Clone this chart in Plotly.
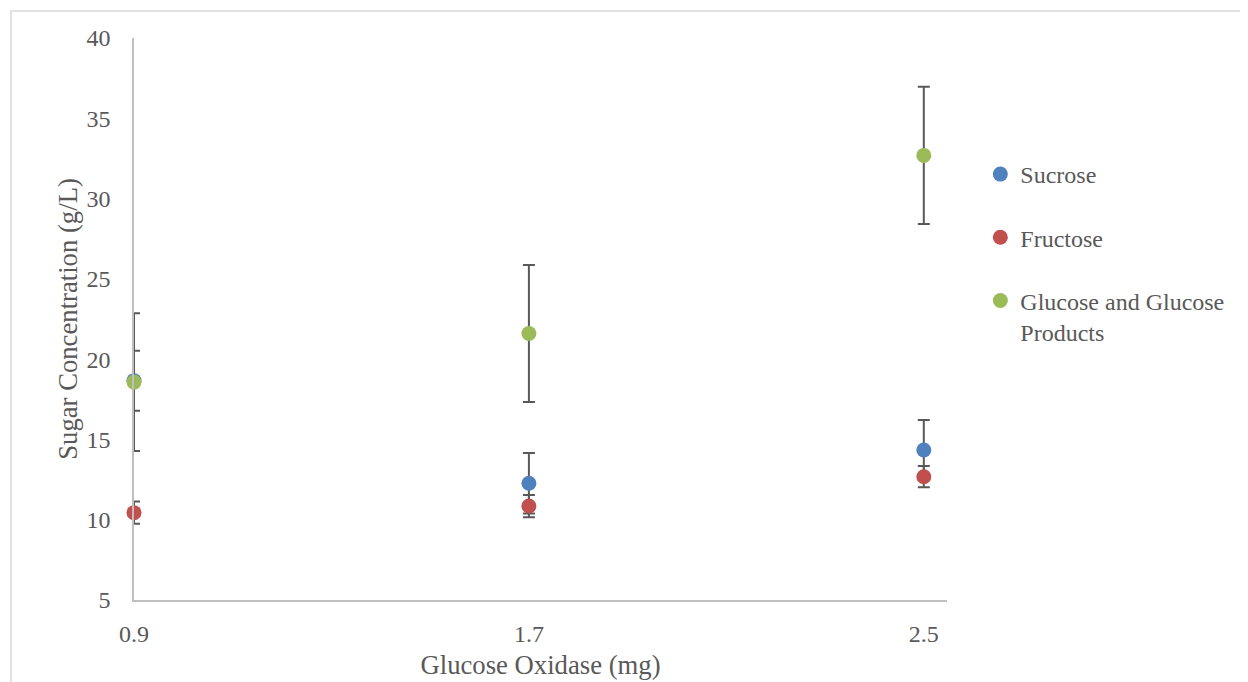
import plotly.graph_objects as go

x_vals = [0.9, 1.7, 2.5]
x_ticks = ["0.9", "1.7", "2.5"]

sucrose = [18.66, 12.27, 14.34]
sucrose_err = [1.87, 1.88, 1.87]

fructose = [10.44, 10.85, 12.68]
fructose_err = [0.69, 0.69, 0.66]

glucose = [18.57, 21.6, 32.69]
glucose_err = [4.29, 4.27, 4.28]

series = [
    ("Sucrose", sucrose, sucrose_err, "#4F81BD"),
    ("Fructose", fructose, fructose_err, "#C0504D"),
    ("Glucose and Glucose<br>Products", glucose, glucose_err, "#9BBB59"),
]

# page has an 8px body margin; work in figure coordinates
OFF = 8
W, H = 1248 - OFF, 682 - OFF
L, T = 134 - OFF, 38 - OFF
pw, ph = 813, 562
R, B = W - L - pw, H - T - ph


def px_x(page_x):
    return (page_x - OFF - L) / pw


def px_y(page_y):
    return (T + ph - (page_y - OFF)) / ph


fig = go.Figure()
for i, (name, ys, errs, col) in enumerate(series):
    fig.add_trace(go.Scatter(
        x=x_vals, y=ys, mode="markers", name=name,
        legendgroup=f"g{i}",
        marker=dict(color=col, size=15),
        error_y=dict(type="data", array=errs, visible=True,
                     color="#595959", thickness=2, width=6),
        cliponaxis=False,
    ))

font_color = "#595959"
fig.update_layout(
    width=W, height=H,
    margin=dict(l=L, r=R, t=T, b=B, autoexpand=False),
    paper_bgcolor="white", plot_bgcolor="white",
    font=dict(family="Liberation Serif, Times New Roman, serif", size=24, color=font_color),
    showlegend=True,
    legend=dict(x=1.041, xanchor="left", y=px_y(152), yanchor="top",
                font=dict(size=24, color=font_color), tracegroupgap=29,
                itemwidth=30, valign="top", bgcolor="rgba(0,0,0,0)"),
    xaxis=dict(range=[0.9, 2.547], tickvals=x_vals, ticktext=x_ticks,
               automargin=False,
               showgrid=False, zeroline=False, showline=True,
               linecolor="#BFBFBF", linewidth=1.5, ticks="",
               ticklabelstandoff=11, tickfont=dict(size=24),
               title=dict(text="Glucose Oxidase (mg)", standoff=10,
                          font=dict(size=26.7, color=font_color))),
    yaxis=dict(range=[5, 40], dtick=5, showgrid=False, zeroline=False,
               automargin=False,
               showline=True, linecolor="#BFBFBF", linewidth=1.5, ticks="",
               ticklabelstandoff=17, tickfont=dict(size=24),
               title=dict(text="Sugar Concentration (g/L)", standoff=1,
                          font=dict(size=26.7, color=font_color))),
    shapes=[dict(type="rect", xref="paper", yref="paper",
                 x0=px_x(11), x1=px_x(1300),
                 y0=px_y(720), y1=px_y(11),
                 line=dict(color="#D9D9D9", width=1.5), layer="below")],
)

fig.write_html("out.html")
